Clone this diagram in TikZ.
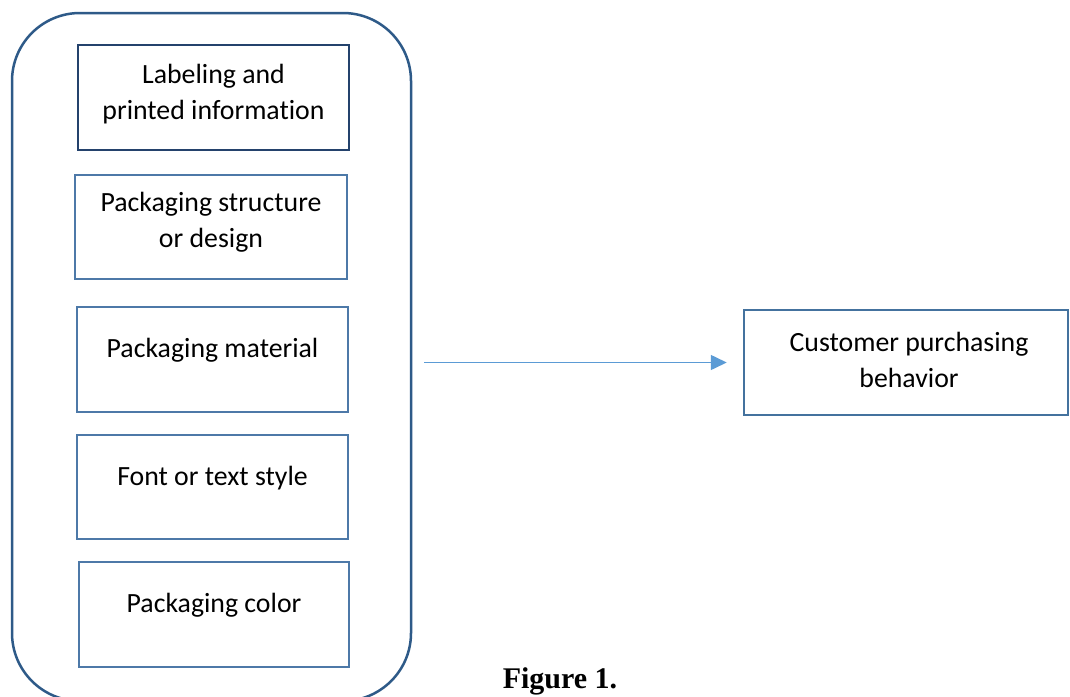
\documentclass[tikz,border=0pt]{standalone}
\usepackage{fontspec}
\setmainfont{Carlito}[Ligatures=NoCommon]
\newfontfamily\figfont{Liberation Serif}
\usetikzlibrary{arrows.meta}
\definecolor{outerblue}{HTML}{2E5A88}
\definecolor{darkbox}{HTML}{24426C}
\definecolor{boxblue}{HTML}{4D79A8}
\definecolor{rbox}{HTML}{44729E}
\definecolor{arrowblue}{HTML}{5B9BD5}
\begin{document}
\begin{tikzpicture}[x=1pt,y=-1pt,
  box/.style={draw=boxblue, line width=2pt, minimum width=#1, minimum height=105pt, inner sep=0pt},
  txt/.style={font=\fontsize{27.8}{35.5}\selectfont, align=center, inner sep=0pt, anchor=base},
  arr/.style={draw=arrowblue, line width=1.5pt, -{Triangle[length=16pt,width=15pt]}}]
\useasboundingbox (0,0) rectangle (1070,696);
\fill[white] (0,0) rectangle (1070,696);
\clip (0,0) rectangle (1070,696);
\node[draw=outerblue, line width=2.5pt, rounded corners=68pt, minimum width=399pt, minimum height=688pt, inner sep=0pt] (outer) at (211.5,357) {};
\node[box=271pt, draw=darkbox, line width=2.5pt] (b1) at (213.5,97.5) {};
\node[box=272pt, minimum height=104pt] (b2) at (211,227) {};
\node[box=271pt] (b3) at (212.5,359.5) {};
\node[box=271pt, minimum height=104pt] (b4) at (212.5,487) {};
\node[box=270pt] (b5) at (214,614.5) {};
\node[box=324pt, draw=rbox, line width=2.5pt] (r) at (906,362.5) {};
\node[txt] (t1) at (213.5,119) {Labeling and\\printed information};
\node[txt] (t2) at (211,247) {Packaging structure\\or design};
\node[txt] (t3) at (212.5,357) {Packaging material};
\node[txt] (t4) at (212.5,485) {Font or text style};
\node[txt] (t5) at (214,612) {Packaging color};
\node[txt] (tr) at (909,387) {Customer purchasing\\behavior};
\node[font=\figfont\bfseries\fontsize{30}{36}\selectfont, inner sep=0pt, anchor=base] (fig) at (560,688) {Figure 1.};
\draw[arr, shorten <=12pt, shorten >=16pt] (outer.east |- r.west) -- (r.west);
\end{tikzpicture}
\end{document}
